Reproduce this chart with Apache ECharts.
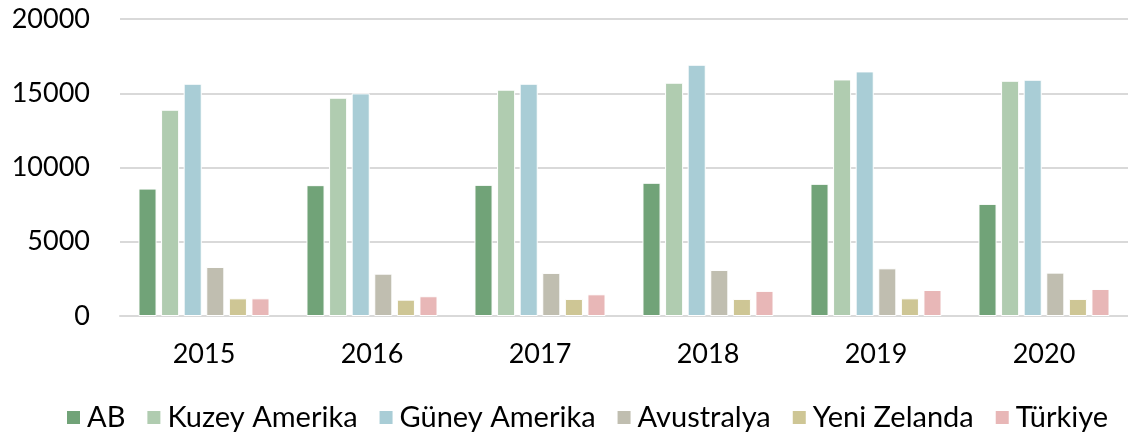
<!DOCTYPE html>
<html>
<head>
<meta charset="utf-8">
<script src="https://cdn.jsdelivr.net/npm/echarts@6/dist/echarts.min.js"></script>
<style>
  html, body { margin: 0; padding: 0; background: #fff; }
  #chart { width: 1128px; height: 439px; }
</style>
</head>
<body>
<div id="chart"></div>
<script>
// Years on the category axis
const years = ['2015', '2016', '2017', '2018', '2019', '2020'];

// Values per region, one per year
const ab           = [8580, 8810, 8830, 8970, 8900, 7550];
const kuzeyAmerika = [13890, 14700, 15240, 15710, 15930, 15840];
const guneyAmerika = [15640, 14990, 15640, 16920, 16470, 15910];
const avustralya   = [3300, 2850, 2900, 3100, 3210, 2920];
const yeniZelanda  = [1190, 1100, 1150, 1150, 1190, 1150];
const turkiye      = [1190, 1330, 1460, 1690, 1750, 1820];

const seriesDefs = [
  { name: 'AB', data: ab, color: '#71A378' },
  { name: 'Kuzey Amerika', data: kuzeyAmerika, color: '#B0CCB0' },
  { name: 'Güney Amerika', data: guneyAmerika, color: '#A9CDD6' },
  { name: 'Avustralya', data: avustralya, color: '#C0BEB0' },
  { name: 'Yeni Zelanda', data: yeniZelanda, color: '#CEC695' },
  { name: 'Türkiye', data: turkiye, color: '#E8B7B7' }
];

const font = 'Lato, "Open Sans", sans-serif';
const chart = echarts.init(document.getElementById('chart'));
chart.setOption({
  animation: false,
  textStyle: { fontFamily: font },
  grid: { left: 120, right: 0, top: 19, bottom: 123 },
  legend: {
    bottom: 2,
    left: 60,
    itemWidth: 15,
    itemHeight: 15,
    itemGap: 20,
    icon: 'rect',
    textStyle: { fontSize: 29, color: '#000', fontFamily: font, padding: [0, 0, 0, 1] },
    data: seriesDefs.map(s => s.name)
  },
  xAxis: {
    type: 'category',
    data: years,
    axisTick: { show: false },
    axisLine: { lineStyle: { color: '#D9D9D9', width: 2 } },
    axisLabel: { fontSize: 27, color: '#000', margin: 25, fontFamily: font }
  },
  yAxis: {
    type: 'value',
    min: 0,
    max: 20000,
    interval: 5000,
    axisLine: { show: false },
    axisTick: { show: false },
    splitLine: { lineStyle: { color: '#D9D9D9', width: 2 } },
    axisLabel: {
      fontSize: 27, color: '#000', margin: 30, fontFamily: font,
      formatter: v => String(v)
    }
  },
  series: seriesDefs.map(s => ({
    name: s.name,
    type: 'bar',
    data: s.data,
    barGap: '25%',
    barCategoryGap: '22%',
    itemStyle: { color: s.color, borderColor: '#fff', borderWidth: 1 }
  }))
});
</script>
</body>
</html>
